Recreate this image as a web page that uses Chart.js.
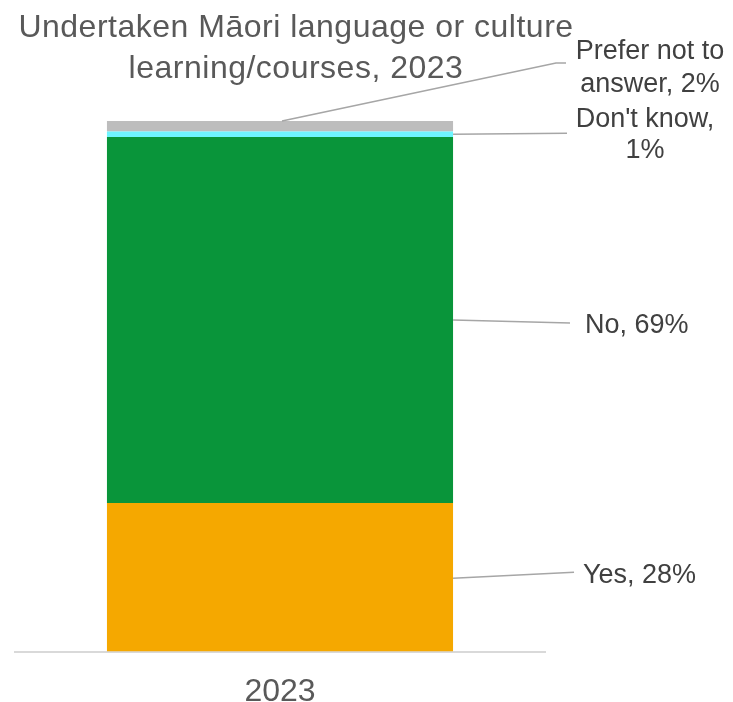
<!DOCTYPE html>
<html>
<head>
<meta charset="utf-8">
<script src="https://cdn.jsdelivr.net/npm/chart.js@4/dist/chart.umd.min.js"></script>
<style>
  html, body { margin: 0; padding: 0; background: #fff; }
  #wrap { width: 733px; height: 702px; position: relative; }
</style>
</head>
<body>
<div id="wrap"><canvas id="chart"></canvas></div>
<script>
// Chart data
const categories = ['2023'];
const seriesNames = ['Yes', 'No', "Don't know", 'Prefer not to answer'];
const yesValues = [28];
const noValues = [69];
const dontKnowValues = [1];
const preferNotValues = [2];
const seriesColors = ['#F5A800', '#09953A', '#6FF5FF', '#BDBDBD'];
const titleLines = ['Undertaken Māori language or culture', 'learning/courses, 2023'];

const FONT = '"Liberation Sans", Arial, sans-serif';

// title + labels with leader lines, drawn after the bars
const labelPlugin = {
    id: 'labels',
    afterDraw(chart) {
        const ctx = chart.ctx;
        const ys = chart.scales.y;
        const bar = chart.getDatasetMeta(0).data[0];
        const barRight = bar.x + bar.width / 2;
        const barCenter = bar.x;

        // title
        ctx.save();
        ctx.fillStyle = '#595959';
        ctx.font = '32px ' + FONT;
        ctx.letterSpacing = '0.5px';
        ctx.textAlign = 'center';
        ctx.textBaseline = 'alphabetic';
        ctx.fillText(titleLines[0], 296, 37);
        ctx.fillText(titleLines[1], 296, 78);
        ctx.restore();

        ctx.save();
        ctx.strokeStyle = '#A6A6A6';
        ctx.lineWidth = 1.6;
        ctx.fillStyle = '#404040';
        ctx.font = '27px ' + FONT;
        ctx.textBaseline = 'alphabetic';

        const yesMid = ys.getPixelForValue(yesValues[0] / 2);
        const noMid = ys.getPixelForValue(yesValues[0] + noValues[0] / 2);
        const dkMid = ys.getPixelForValue(yesValues[0] + noValues[0] + dontKnowValues[0] / 2);
        const pnTop = ys.getPixelForValue(yesValues[0] + noValues[0] + dontKnowValues[0] + preferNotValues[0]);

        function line(pts) {
            ctx.beginPath();
            ctx.moveTo(pts[0][0], pts[0][1]);
            for (let i = 1; i < pts.length; i++) ctx.lineTo(pts[i][0], pts[i][1]);
            ctx.stroke();
        }

        line([[barRight, yesMid + 1], [574, yesMid - 5]]);
        ctx.textAlign = 'left';
        ctx.fillText(seriesNames[0] + ', ' + yesValues[0] + '%', 583, yesMid + 6);

        line([[barRight, noMid], [570, noMid + 3]]);
        ctx.fillText(seriesNames[1] + ', ' + noValues[0] + '%', 585, noMid + 13);

        line([[barRight, dkMid], [567, dkMid - 1]]);
        ctx.textAlign = 'center';
        ctx.fillText(seriesNames[2] + ',', 645, dkMid - 7);
        ctx.fillText(dontKnowValues[0] + '%', 645, dkMid + 24);

        line([[barCenter + 2, pnTop], [556, pnTop - 58], [566, pnTop - 58]]);
        ctx.fillText('Prefer not to', 650, pnTop - 62);
        ctx.fillText('answer, ' + preferNotValues[0] + '%', 650, pnTop - 29);
        ctx.restore();
    }
};

const values = [yesValues, noValues, dontKnowValues, preferNotValues];

new Chart(document.getElementById('chart'), {
    type: 'bar',
    data: {
        labels: categories,
        datasets: seriesNames.map((name, i) => ({
            label: name,
            data: values[i],
            backgroundColor: seriesColors[i],
            borderWidth: 0,
            barPercentage: 1,
            categoryPercentage: 0.653
        }))
    },
    options: {
        responsive: true,
        maintainAspectRatio: false,
        animation: false,
        layout: { padding: { top: 121, left: 15, right: 188, bottom: -30 } },
        plugins: {
            legend: { display: false },
            tooltip: { enabled: false }
        },
        scales: {
            x: {
                stacked: true,
                grid: { display: false, drawTicks: false },
                border: { display: true, color: '#D9D9D9', width: 2 },
                ticks: { color: '#595959', font: { family: FONT, size: 32 }, padding: 21 }
            },
            y: {
                stacked: true,
                display: false,
                min: 0,
                max: 100
            }
        }
    },
    plugins: [labelPlugin]
});
</script>
</body>
</html>
